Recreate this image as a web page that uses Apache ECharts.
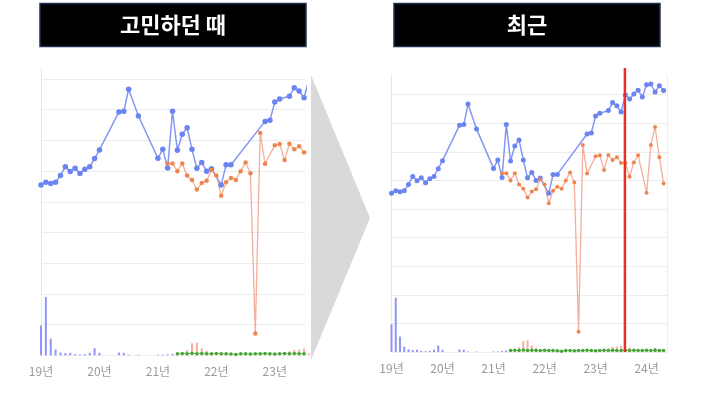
<!DOCTYPE html>
<html><head><meta charset="utf-8">
<script src="https://cdn.jsdelivr.net/npm/echarts@6/dist/echarts.min.js"></script>
<style>html,body{margin:0;padding:0;background:#fff}#c{width:720px;height:395px}</style>
</head><body><div id="c"></div>
<script>
// x values are month indexes counted from 2019-01 (0 = Jan 2019)
const yearLabels = ['19년','20년','21년','22년','23년','24년'];
const panelTitles = ['고민하던 때','최근'];

const blueMonths = [0,1,2,3,4,5,6,7,8,9,10,11,12,16,17,18,20,24,25,26,27,28,29,30,31,32,33,34,35,37,38,39,46,47,48,49,51,52,53,54,55,56,57,58,59,60,61,62,63,64];
const blueValues = [55.5,56.4,56.0,56.4,58.6,61.4,59.9,60.9,59.2,60.6,61.4,64.1,66.9,79.3,79.5,86.7,78.0,64.2,67.1,61.0,79.5,66.8,72.0,74.1,67.1,60.9,62.8,60.0,60.8,55.5,62.1,62.1,76.2,76.6,82.5,83.5,84.4,87.2,86.1,83.9,89.9,88.5,90.2,91.5,89.2,93.4,93.7,90.9,93.1,91.4];

const orangeMonths = [26,27,28,29,30,31,32,33,34,35,36,37,38,39,40,41,42,43,44,45,46,48,49,50,51,52,53,54,55,56,57,58,60,61,62,63,64];
const orangeValues = [62.5,62.5,60.0,62.5,58.6,57.1,54.0,56.1,56.9,60.4,58.6,52.0,56.4,57.8,57.1,60.0,62.8,59.3,7.1,72.4,62.4,68.4,68.8,63.6,68.9,67.1,68.1,66.1,66.2,61.3,66.3,68.8,55.7,72.4,78.7,68.1,58.9];

const blueBarMonths = [0,1,2,3,4,5,6,7,8,9,10,11,12,16,17,18,20,24,25,26,27,28,62];
const blueBarValues = [9.7,19.0,5.4,1.9,0.9,0.7,0.8,0.4,0.3,0.4,0.8,2.3,0.8,0.9,0.8,0.2,0.2,0.2,0.2,0.3,0.5,0.3,1.4];

const orangeBarMonths = [29,30,31,32,33,34,35,36,37,38,39,40,41,42,43,44,45,46,47,48,49,50,51,52,53,54,55,56,57,58,59,60,61,62,63,64];
const orangeBarValues = [0.6,1.7,3.9,4.1,2.3,1.5,0.4,0.3,0.3,0.2,0.3,0.2,0.3,0.2,0.2,0.3,0.2,0.3,0.2,0.3,0.4,1.0,1.3,1.8,1.9,2.2,0.6,1.6,0.4,0.3,0.3,0.3,0.3,0.8,0.6,0.3];

const greenMonths = [28,29,30,31,32,33,34,35,36,37,38,39,40,41,42,43,44,45,46,47,48,49,50,51,52,53,54,55,56,57,58,59,60,61,62,63,64];
const greenValues = [0.5,0.6,0.5,0.7,0.5,0.6,0.5,0.5,0.6,0.5,0.5,0.4,0.3,0.5,0.5,0.4,0.5,0.5,0.6,0.5,0.4,0.5,0.6,0.5,0.6,0.5,0.5,0.6,0.5,0.6,0.5,0.5,0.6,0.5,0.6,0.5,0.5];

const markerMonths = [54.9, 54.9];
const markerValues = [0, 99.3];

const pair = (xs, ys) => xs.map((x, i) => [x, ys[i]]);

const chart = echarts.init(document.getElementById('c'), null, {renderer: 'canvas'});

const grids = [
  {left: 41, top: 68, width: 264, height: 287.3},
  {left: 391.5, top: 75, width: 275.5, height: 277}
];
const xMax = [54.2, 64.8];
const yMax = [93.6, 96.85];

const xAxes = [], yAxes = [], series = [];
const font = '"Noto Sans CJK KR", "Noto Sans", sans-serif';
for (let k = 0; k < 2; k++) {
  xAxes.push({
    type: 'value', gridIndex: k, min: 0, max: xMax[k], interval: 12,
    axisLine: {show: true, lineStyle: {color: '#eeeeee'}},
    axisTick: {show: false},
    splitLine: {show: false},
    axisLabel: {
      showMaxLabel: false, margin: 10, color: '#9a9a9a', fontSize: 12, fontFamily: font,
      formatter: v => (v % 12 === 0 ? (yearLabels[v / 12] || '') : '')
    }
  });
  yAxes.push({
    type: 'value', gridIndex: k, min: 0, max: yMax[k], interval: 10,
    axisLine: {show: true, lineStyle: {color: '#e8e8e8'}},
    axisTick: {show: false},
    axisLabel: {show: false},
    splitLine: {show: true, showMaxLine: false, lineStyle: {color: '#ececec'}}
  });
  const symSize = k === 0 ? 5.5 : 5;
  series.push({
    type: 'bar', xAxisIndex: k, yAxisIndex: k, barWidth: 2,
    data: pair(blueBarMonths, blueBarValues),
    itemStyle: {color: 'rgba(118,122,246,0.8)'}
  });
  series.push({
    type: 'bar', xAxisIndex: k, yAxisIndex: k, barWidth: 2, barGap: '-100%',
    data: pair(orangeBarMonths, orangeBarValues),
    itemStyle: {color: 'rgba(242,150,132,0.75)'}
  });
  series.push({
    type: 'line', xAxisIndex: k, yAxisIndex: k,
    data: pair(greenMonths, greenValues),
    symbol: 'circle', symbolSize: 3.5, showSymbol: true,
    lineStyle: {color: '#7cc46a', width: 1},
    itemStyle: {color: '#45a636'}
  });
  series.push({
    type: 'line', xAxisIndex: k, yAxisIndex: k,
    data: pair(blueMonths, blueValues),
    symbol: 'circle', symbolSize: symSize, showSymbol: true,
    lineStyle: {color: '#8597f4', width: 1.5},
    itemStyle: {color: '#6a84f1'}
  });
  series.push({
    type: 'line', xAxisIndex: k, yAxisIndex: k,
    data: pair(orangeMonths, orangeValues),
    symbol: 'circle', symbolSize: symSize - 1, showSymbol: true,
    lineStyle: {color: 'rgba(240,140,110,0.7)', width: 1.3},
    itemStyle: {color: '#ee8550'}
  });
}
// right-side border axis for the right panel
yAxes.push({
  type: 'value', gridIndex: 1, position: 'right', min: 0, max: 1,
  axisLine: {show: true, lineStyle: {color: '#eeeeee'}},
  axisTick: {show: false}, axisLabel: {show: false}, splitLine: {show: false}
});
series.push({
  type: 'line', xAxisIndex: 1, yAxisIndex: 1, clip: false,
  data: pair(markerMonths, markerValues),
  showSymbol: false, symbol: 'none',
  lineStyle: {color: '#e8302a', width: 2.5}, z: 10
});

chart.setOption({
  animation: false,
  backgroundColor: '#ffffff',
  grid: grids,
  xAxis: xAxes,
  yAxis: yAxes,
  series: series,
  graphic: [
    {type: 'rect', shape: {x: 40, y: 3.5, width: 266, height: 43}, style: {fill: '#000000', stroke: '#1f3050', lineWidth: 1.5}},
    {type: 'text', x: 173, y: 25, style: {text: panelTitles[0], fill: '#ffffff', font: 'bold 22px "Noto Sans CJK KR", sans-serif', align: 'center', verticalAlign: 'middle'}},
    {type: 'rect', shape: {x: 394, y: 3.5, width: 266, height: 43}, style: {fill: '#000000', stroke: '#1f3050', lineWidth: 1.5}},
    {type: 'text', x: 527, y: 25, style: {text: panelTitles[1], fill: '#ffffff', font: 'bold 22px "Noto Sans CJK KR", sans-serif', align: 'center', verticalAlign: 'middle'}},
    {type: 'polygon', shape: {points: [[311, 75], [370, 218], [311, 360]]}, style: {fill: '#d9d9d9'}}
  ]
});
</script></body></html>
